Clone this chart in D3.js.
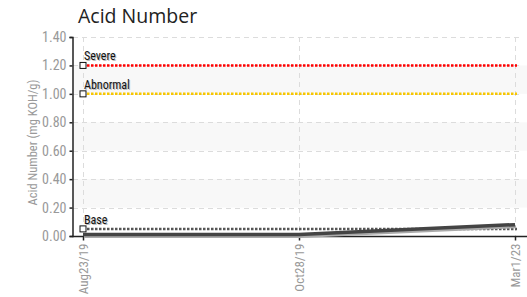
<!DOCTYPE html>
<html>
<head>
<meta charset="utf-8">
<script src="https://cdn.jsdelivr.net/npm/d3@7"></script>
<style>
  body { margin: 0; background: #fff; }
  svg { display: block; }
  .narrow { font-family: "Liberation Sans Narrow", "Roboto Condensed", "Arial Narrow", sans-serif; }
</style>
</head>
<body>
<div id="chart"></div>
<script>
// chart data
const dates = ["Aug23/19", "Oct28/19", "Mar1/23"];
const acidValues = [0.01, 0.01, 0.08];
const yTicks = [0, 0.2, 0.4, 0.6, 0.8, 1.0, 1.2, 1.4];
const limitNames = ["Severe", "Abnormal", "Base"];
const limitValues = [1.2, 1.0, 0.05];
const limitColors = ["#ff0000", "#f7c600", "#555555"];

const width = 527, height = 297;
const plotLeft = 72, plotRight = 522, plotTop = 37, plotBottom = 236;

const svg = d3.select("#chart").append("svg")
    .attr("width", width)
    .attr("height", height);

const x = d3.scalePoint().domain(dates).range([83, 515]);
const y = d3.scaleLinear().domain([0, 1.4]).range([plotBottom, plotTop]);

// title
svg.append("text")
    .attr("x", 78).attr("y", 23)
    .style("font-family", "'Open Sans', sans-serif")
    .style("font-size", "19.5px")
    .style("fill", "#222")
    .text("Acid Number");

// alternating bands
for (let i = 1; i < yTicks.length - 1; i += 2) {
    svg.append("rect")
        .attr("x", plotLeft + 1)
        .attr("y", y(yTicks[i + 1]))
        .attr("width", width - plotLeft - 1)
        .attr("height", y(yTicks[i]) - y(yTicks[i + 1]))
        .attr("fill", "#f8f8f8");
}

// horizontal grid
svg.append("g").selectAll("line")
    .data(yTicks.slice(1))
    .join("line")
    .attr("x1", plotLeft + 1).attr("x2", plotRight)
    .attr("y1", d => Math.round(y(d)) + 0.5).attr("y2", d => Math.round(y(d)) + 0.5)
    .attr("stroke", "#dcdcdc")
    .attr("stroke-dasharray", "5,4");

// vertical grid
svg.append("g").selectAll("line")
    .data(dates)
    .join("line")
    .attr("x1", d => x(d) + 0.5).attr("x2", d => x(d) + 0.5)
    .attr("y1", plotTop).attr("y2", plotBottom)
    .attr("stroke", "#dcdcdc")
    .attr("stroke-dasharray", "5,4");

// y axis
const yAxis = svg.append("g")
    .attr("transform", `translate(${plotLeft + 0.5},0)`)
    .call(d3.axisLeft(y).tickValues(yTicks).tickFormat(d3.format(".2f")).tickSize(3).tickPadding(3));
yAxis.select(".domain").attr("stroke", "#222").attr("stroke-width", 1.5);
yAxis.selectAll(".tick line").attr("stroke", "#222").attr("stroke-width", 1.5);
yAxis.selectAll("text")
    .attr("class", "narrow")
    .style("font-size", "14px")
    .style("fill", "#999");

// x axis
const xAxis = svg.append("g")
    .attr("transform", `translate(0,${plotBottom + 0.5})`)
    .call(d3.axisBottom(x).tickSize(4).tickPadding(6));
xAxis.select(".domain").attr("d", `M${plotLeft},0H${width}`).attr("stroke", "#222").attr("stroke-width", 1.5);
xAxis.selectAll(".tick line").attr("stroke", "#222").attr("stroke-width", 1.5);
xAxis.selectAll("text")
    .attr("class", "narrow")
    .style("font-size", "13px")
    .style("fill", "#999")
    .attr("text-anchor", "end")
    .attr("transform", "rotate(-90)")
    .attr("x", -7)
    .attr("y", 0)
    .attr("dy", "0.35em");

// y axis label
svg.append("text")
    .attr("class", "narrow")
    .attr("transform", `translate(37,${(plotTop + plotBottom) / 2 + 6}) rotate(-90)`)
    .attr("text-anchor", "middle")
    .style("font-size", "12.5px")
    .style("fill", "#999")
    .text("Acid Number (mg KOH/g)");

// limit lines
limitNames.forEach((name, i) => {
    const yy = y(limitValues[i]);
    svg.append("line")
        .attr("x1", x(dates[0])).attr("x2", x(dates[dates.length - 1]) + 2)
        .attr("y1", yy).attr("y2", yy)
        .attr("stroke", limitColors[i])
        .attr("stroke-width", 2.5)
        .attr("stroke-dasharray", "2.5,1.5");
    svg.append("rect")
        .attr("x", x(dates[0]) - 3).attr("y", yy - 3)
        .attr("width", 6).attr("height", 6)
        .attr("fill", "#fff")
        .attr("stroke", "#111")
        .attr("stroke-width", 1);
    // soft shadow then the label
    svg.append("text")
        .attr("class", "narrow")
        .attr("x", x(dates[0]) + 2).attr("y", yy - 4)
        .style("font-size", "12px")
        .style("fill", "#bbb")
        .text(name);
    svg.append("text")
        .attr("class", "narrow")
        .attr("x", x(dates[0]) + 1).attr("y", yy - 5)
        .style("font-size", "12px")
        .style("fill", "#111")
        .text(name);
});

// data series
const line = d3.line().x(d => x(d[0])).y(d => y(d[1]));
const pts = dates.map((d, i) => [d, acidValues[i]]);
svg.append("path")
    .datum(pts)
    .attr("d", line)
    .attr("transform", "translate(1,2)")
    .attr("fill", "none")
    .attr("stroke", "#aaa")
    .attr("stroke-width", 3);
svg.append("path")
    .datum(pts)
    .attr("d", line)
    .attr("fill", "none")
    .attr("stroke", "#444")
    .attr("stroke-width", 3.5);
</script>
</body>
</html>
